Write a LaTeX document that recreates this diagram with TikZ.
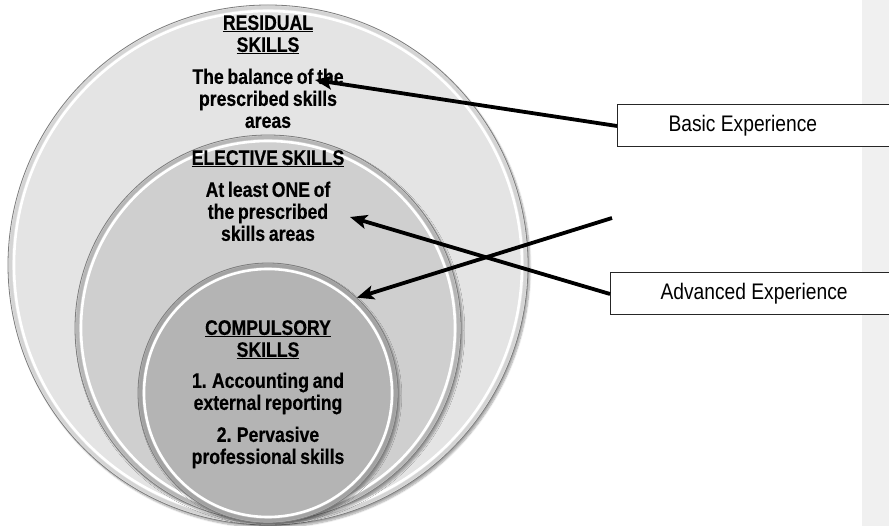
\documentclass[tikz,border=0pt]{standalone}
\usepackage{fontspec}
\newfontfamily\circfont{Liberation Sans}[FakeStretch=0.84, WordSpace=0.75, FakeBold=0.4]
\newfontfamily\boxfont{Liberation Sans}[FakeStretch=0.855]
\usetikzlibrary{arrows.meta,shadows.blur}
\definecolor{outerfill}{RGB}{228,228,228}
\definecolor{midfill}{RGB}{207,207,207}
\definecolor{innerfill}{RGB}{180,180,180}
\definecolor{panelgrey}{RGB}{240,240,240}
\definecolor{rimgrey}{RGB}{125,125,125}
\newcommand{\boxline}[1]{\makebox[250pt][l]{#1}}
\tikzset{
  skillcircle/.style={circle, inner sep=0pt, draw=rimgrey, line width=0.8pt,
    blur shadow={shadow xshift=2pt, shadow yshift=-2.5pt, shadow blur steps=8, shadow opacity=35}},
  whitering/.style={draw=white, line width=2.6pt},
  rimband/.style={line width=3pt},
  skilltext/.style={align=center, inner sep=0pt, anchor=north,
    font=\circfont\bfseries\fontsize{21}{22}\selectfont},
  expbox/.style={draw=black!85, line width=1pt, fill=white, anchor=west,
    minimum height=42pt, inner ysep=0pt,
    font=\boxfont\fontsize{22.5}{24}\selectfont},
  link/.style={line width=3.8pt, -{Stealth[length=17pt,width=14pt,inset=4pt]}},
}
\begin{document}
\begin{tikzpicture}[x=1pt,y=-1pt]
\useasboundingbox (0,0) rectangle (889,526);
\clip (0,0) rectangle (889,526);
\fill[panelgrey] (862,0) rectangle (889,526);

% circles
\node[skillcircle, fill=outerfill, minimum size=520pt] (residual) at (268,265) {};
\draw[rimband, draw=outerfill!93!black] (residual.center) circle[radius=257.5pt];
\draw[whitering] (residual.center) circle[radius=254pt];
\node[skillcircle, fill=midfill, minimum size=386pt] (elective) at (268,328) {};
\draw[rimband, draw=midfill!88!black] (elective.center) circle[radius=190.5pt];
\draw[whitering] (elective.center) circle[radius=187pt];
\node[skillcircle, fill=innerfill, minimum size=260pt] (compulsory) at (268,393) {};
\draw[rimband, draw=innerfill!90!black] (compulsory.center) circle[radius=127.5pt];
\draw[whitering] (compulsory.center) circle[radius=124pt];

% texts
\node[skilltext] (restext) at (268,15)
  {\underline{RESIDUAL}\\\underline{SKILLS}\\[10pt]The balance of the\\prescribed skills\\areas};
\node[skilltext] (eltext) at (268,150)
  {\underline{ELECTIVE SKILLS}\\[10pt]At least ONE of\\the prescribed\\skills areas};
\node[skilltext] (comptext) at (268,320)
  {\underline{COMPULSORY}\\\underline{SKILLS}\\[9pt]1. Accounting and\\external reporting\\[10pt]2. Pervasive\\professional skills};

% boxes
\node[expbox, inner xsep=51pt] (basic) at (617,126) {\boxline{Basic Experience}};
\node[expbox, inner xsep=50pt] (advanced) at (610,294) {\boxline{Advanced Experience}};

% arrows
\coordinate (restip) at (315,80);
\coordinate (eltip) at (350,217);
\coordinate (loose) at (612,218);
\draw[link] (basic.west) -- (restip);
\draw[link] (advanced.west) -- (eltip);
\draw[link] (loose) -- (compulsory.47);
\end{tikzpicture}
\end{document}
